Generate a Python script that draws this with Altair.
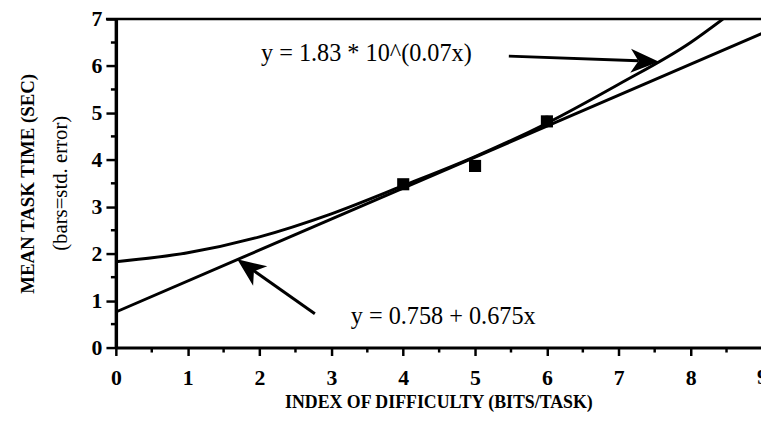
import altair as alt
import pandas as pd

# ---- data ----
x_ticks = [0, 1, 2, 3, 4, 5, 6, 7, 8, 9]
y_ticks = [0, 1, 2, 3, 4, 5, 6, 7]
x_minor = [0.5, 1.5, 2.5, 3.5, 4.5, 5.5, 6.5, 7.5, 8.5]
y_minor = [0.5, 1.5, 2.5, 3.5, 4.5, 5.5, 6.5]

pts_x = [4, 5, 6]
pts_y = [3.48, 3.87, 4.82]
pts_se = [0.08, 0.10, 0.12]

lin_x = [0, 9]
lin_y = [0.758, 6.70]

exp_x = [0, 1, 2, 3, 4, 5, 6, 7, 8, 8.45]
exp_y = [1.83, 2.02, 2.36, 2.85, 3.45, 4.07, 4.78, 5.61, 6.5, 7.0]

eq_texts = ["y = 1.83 * 10^(0.07x)", "y = 0.758 + 0.675x"]
eq_x = [2.02, 3.27]
eq_y = [6.25, 0.66]

arrow_x = [5.47, 2.77]
arrow_y = [6.21, 0.72]
arrow_x2 = [7.27, 1.90]
arrow_y2 = [6.11, 1.66]
tip_x = [7.56, 1.69]
tip_y = [6.09, 1.88]
tip_angle = [2, 216]

x_title = "INDEX OF DIFFICULTY (BITS/TASK)"
y_title = "MEAN TASK TIME (SEC)"
y_subtitle = "(bars=std. error)"

W, H = 652, 332
SERIF = "Liberation Serif"

xs = alt.Scale(domain=[0, 8.98], nice=False, zero=False)
ys = alt.Scale(domain=[0, 7], nice=False, zero=False)

LABEL_SIZE = 22

xaxis = alt.Axis(values=x_ticks, title=x_title, grid=False, domainColor="black",
                 domainWidth=3, tickColor="black", tickWidth=2.5, tickSize=8,
                 labelFont=SERIF, labelFontSize=LABEL_SIZE, labelFontWeight="bold",
                 labelColor="black", labelPadding=12, labelFlush=False,
                 labelOverlap=False,
                 titleFont=SERIF, titleFontSize=18, titleFontWeight="bold",
                 titleColor="black", titleY=56, titleBaseline="middle")
yaxis = alt.Axis(values=y_ticks, title=y_title, grid=False, domainColor="black",
                 domainWidth=3.5, tickColor="black", tickWidth=2.5, tickSize=10,
                 labelFont=SERIF, labelFontSize=LABEL_SIZE, labelFontWeight="bold",
                 labelColor="black", labelPadding=4, labelFlush=False,
                 labelOverlap=False,
                 titleFont=SERIF, titleFontSize=19, titleFontWeight="bold",
                 titleColor="black", titleX=-89, titleY=H / 2,
                 titleBaseline="middle")


def X(f):
    return alt.X(f, type="quantitative", scale=xs, axis=xaxis)


def Y(f):
    return alt.Y(f, type="quantitative", scale=ys, axis=yaxis)


exp_df = pd.DataFrame({"x": exp_x, "y": exp_y})
lin_df = pd.DataFrame({"x": lin_x, "y": lin_y})
pts_df = pd.DataFrame({"x": pts_x, "y": pts_y,
                       "lo": [a - b for a, b in zip(pts_y, pts_se)],
                       "hi": [a + b for a, b in zip(pts_y, pts_se)]})
eq_df = pd.DataFrame({"x": eq_x, "y": eq_y, "t": eq_texts})
arr_df = pd.DataFrame({"x": arrow_x, "y": arrow_y, "x2": arrow_x2, "y2": arrow_y2})
top_df = pd.DataFrame({"y": [7]})
xmin_df = pd.DataFrame({"x": x_minor})
ymin_df = pd.DataFrame({"y": y_minor})
# tick labels past the cropped right edge (partly visible, as in the scan)
edge_df = pd.DataFrame({"x": [v for v in x_ticks if v > 8.98],
                        "t": [str(v) for v in x_ticks if v > 8.98]})

exp_line = alt.Chart(exp_df).mark_line(color="black", strokeWidth=3,
                                        interpolate="monotone", clip=True).encode(
    x=X("x"), y=Y("y"))
lin_line = alt.Chart(lin_df).mark_line(color="black", strokeWidth=3, clip=True).encode(
    x=X("x"), y=Y("y"))
top_rule = alt.Chart(top_df).mark_rule(color="black", strokeWidth=2.5).encode(
    y=Y("y"), x=alt.value(-10), x2=alt.value(W))
xminor = alt.Chart(xmin_df).mark_rule(color="black", strokeWidth=2.5).encode(
    x=X("x"), y=alt.value(H), y2=alt.value(H + 5))
yminor = alt.Chart(ymin_df).mark_rule(color="black", strokeWidth=2.5).encode(
    y=Y("y"), x=alt.value(-5), x2=alt.value(0))
err = alt.Chart(pts_df).mark_rule(color="black", strokeWidth=3).encode(
    x=X("x"), y=Y("lo"), y2="hi")
sq = alt.Chart(pts_df).mark_square(color="black", size=150, opacity=1).encode(
    x=X("x"), y=Y("y"))
eqs = alt.Chart(eq_df).mark_text(align="left", baseline="middle", font=SERIF,
                                 fontSize=24.5, color="black").encode(
    x=X("x"), y=Y("y"), text="t:N")
arrows = alt.Chart(arr_df).mark_rule(color="black", strokeWidth=3).encode(
    x=X("x"), y=Y("y"), x2="x2", y2="y2")
edge_lbl = alt.Chart(edge_df).mark_text(align="center", baseline="top", font=SERIF,
                                        fontSize=LABEL_SIZE, fontWeight="bold",
                                        color="black").encode(
    x=X("x"), y=alt.value(H + 20), text="t:N")

HEAD = "M0,0 L-2,-0.85 L-1.45,0 L-2,0.85 Z"
heads = []
for i in range(len(tip_x)):
    d = pd.DataFrame({"x": [tip_x[i]], "y": [tip_y[i]]})
    heads.append(alt.Chart(d).mark_point(shape=HEAD, filled=True, color="black",
                                         opacity=1, size=820, angle=tip_angle[i])
                 .encode(x=X("x"), y=Y("y")))

sub = alt.Chart(pd.DataFrame({"t": [y_subtitle]})).mark_text(
    font=SERIF, fontSize=21, color="black", angle=270, align="center",
    baseline="middle").encode(x=alt.value(-55), y=alt.value(H / 2), text="t:N")

chart = alt.layer(exp_line, lin_line, top_rule, xminor, yminor, err, sq, eqs,
                  arrows, edge_lbl, *heads, sub).properties(
    width=W, height=H,
    autosize=alt.AutoSizeParams(type="none"),
    padding={"left": 109, "top": 9, "right": 0, "bottom": 69},
).configure_view(stroke=None).configure(background="white")

chart.save("out.html", embed_options={"renderer": "svg", "actions": False})
